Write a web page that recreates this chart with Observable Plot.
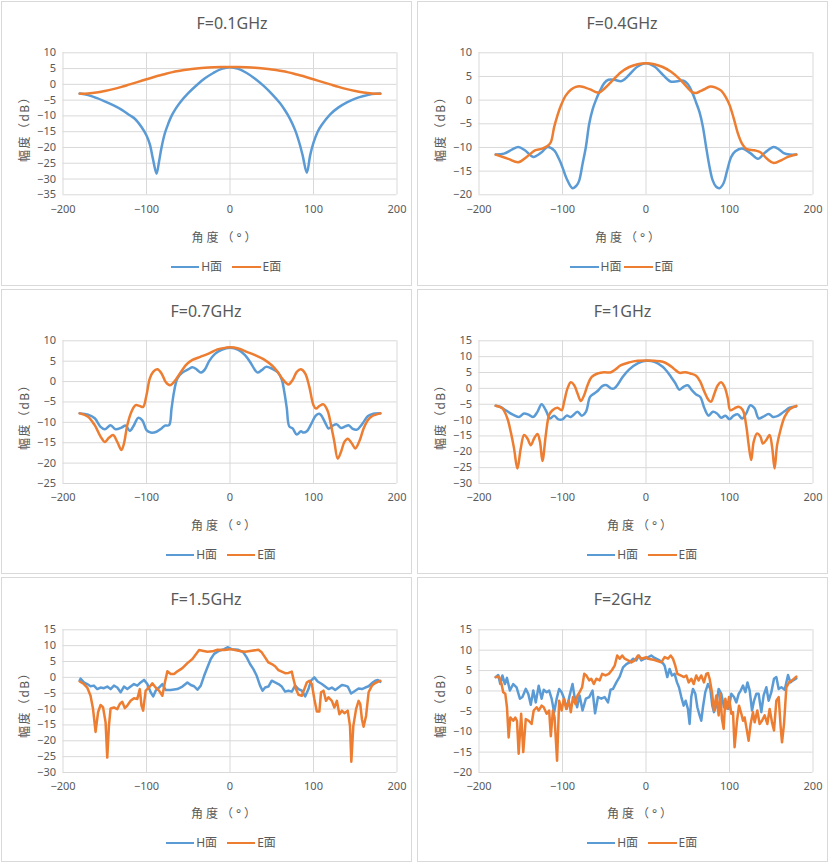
<!DOCTYPE html>
<html><head><meta charset="utf-8">
<script src="https://cdn.jsdelivr.net/npm/d3@7"></script>
<script src="https://cdn.jsdelivr.net/npm/@observablehq/plot@0.6"></script>
<style>
body{margin:0;background:#fff;font-family:"Noto Sans","Noto Sans CJK SC",sans-serif;color:#595959;}
#root{position:relative;width:829px;height:863px;overflow:hidden;}
.panel{position:absolute;width:413px;height:287px;}
.box{position:absolute;left:1px;top:1px;width:411px;height:285px;border:1px solid #d9d9d9;box-sizing:border-box;}
.t{position:absolute;white-space:nowrap;line-height:1;}
.plot{position:absolute;left:0;top:0;}
</style></head><body><div id="root"></div><script>
// ---------- data (angle in degrees, amplitude in dB) ----------
const titles = ["F=0.1GHz","F=0.4GHz","F=0.7GHz","F=1GHz","F=1.5GHz","F=2GHz"];
const seriesNames = ["H面","E面"];
const xTicks = [-200,-100,0,100,200];
const yDomains = [[-35,10],[-20,10],[-25,10],[-30,15],[-30,15],[-20,15]];

const H01 = [[-180,-2.9],[-170,-3.4],[-160,-4.3],[-150,-5.4],[-140,-6.6],[-130,-8.0],[-120,-9.8],[-114,-10.9],[-106,-13.5],[-100,-16.2],[-96,-19],[-92,-24],[-88,-28.3],[-85,-24.5],[-82,-20],[-78,-15.5],[-74,-12.5],[-70,-10],[-65,-7.7],[-60,-5.8],[-50,-2.8],[-40,-0.3],[-30,1.9],[-20,3.6],[-10,4.9],[0,5.4],[10,4.9],[20,3.6],[30,1.8],[40,-0.4],[50,-3.0],[60,-6.0],[66,-8.3],[72,-11],[78,-14.5],[83,-18.5],[87,-22.5],[92,-28],[96,-22.5],[100,-18.5],[105,-15],[110,-12.8],[120,-9.5],[130,-7.3],[140,-5.7],[150,-4.5],[160,-3.7],[170,-3.1],[180,-2.9]];
const E01 = [[-180,-3.0],[-170,-2.9],[-160,-2.6],[-150,-2.1],[-140,-1.5],[-130,-0.8],[-120,0.0],[-110,0.8],[-100,1.6],[-90,2.4],[-80,3.1],[-70,3.8],[-60,4.3],[-50,4.7],[-40,5.0],[-30,5.25],[-20,5.4],[-10,5.5],[0,5.5],[10,5.5],[20,5.4],[30,5.25],[40,5.0],[50,4.7],[60,4.3],[70,3.8],[80,3.1],[90,2.4],[100,1.6],[110,0.8],[120,0.0],[130,-0.8],[140,-1.5],[150,-2.1],[160,-2.6],[170,-2.9],[180,-3.0]];

const H04 = [[-180,-11.5],[-170,-11.3],[-160,-10.4],[-153,-9.9],[-145,-10.6],[-135,-12.0],[-125,-11.0],[-118,-9.9],[-110,-10.6],[-104,-12.5],[-100,-14.2],[-95,-16.6],[-88,-18.6],[-83,-18],[-80,-17],[-76,-13.5],[-72,-9.9],[-68,-5],[-64,-2],[-60,0],[-55,2.0],[-50,3.6],[-45,4.3],[-38,4.3],[-30,4.0],[-25,4.5],[-20,5.4],[-10,7.1],[0,7.8],[10,7.1],[20,5.4],[25,4.5],[30,3.9],[38,4.0],[45,4.1],[50,3.4],[55,1.8],[60,-0.5],[64,-2.5],[68,-5.5],[72,-9.9],[76,-14],[80,-17],[84,-18.3],[88,-18.6],[93,-17.5],[97,-15],[102,-12],[107,-10.8],[115,-10.2],[125,-11.2],[134,-12.4],[143,-11],[153,-9.9],[160,-10.5],[165,-11.2],[172,-11.5],[180,-11.5]];
const E04 = [[-180,-11.5],[-165,-12.4],[-153,-13.1],[-143,-12],[-133,-10.6],[-125,-10.3],[-118,-9.7],[-114,-8.9],[-110,-5.7],[-106,-3.2],[-102,-1.2],[-96,1.0],[-90,2.2],[-84,2.8],[-78,2.9],[-72,2.6],[-66,2.2],[-60,1.7],[-56,1.6],[-50,2.4],[-42,3.8],[-30,5.9],[-20,7.0],[-10,7.6],[0,7.8],[10,7.6],[20,7.0],[30,6.0],[40,4.5],[50,2.6],[55,1.7],[60,1.5],[65,1.9],[70,2.3],[77,2.9],[84,2.6],[90,2.0],[95,0.8],[100,-1.0],[105,-3.8],[110,-7],[115,-9.2],[120,-10.3],[130,-10.6],[137,-11],[145,-12.4],[153,-13.3],[163,-12.6],[170,-12],[180,-11.5]];

const H07 = [[-180,-7.8],[-170,-8.1],[-162,-9.0],[-155,-11.1],[-150,-11.7],[-143,-10.7],[-137,-11.7],[-130,-11.3],[-125,-10.8],[-120,-12.1],[-115,-10.7],[-110,-8.9],[-105,-9.5],[-100,-11.9],[-95,-12.5],[-88,-12.3],[-82,-11.5],[-78,-10.8],[-73,-10.7],[-70,-6.6],[-67,-2.5],[-63,0.8],[-57,2.2],[-50,3.0],[-45,3.5],[-40,3.0],[-35,2.2],[-30,3.0],[-25,5.0],[-18,6.8],[-10,7.8],[0,8.3],[10,7.8],[18,6.5],[25,4.5],[30,2.8],[33,2.2],[38,2.8],[43,3.6],[50,3.2],[57,2.3],[62,0.5],[65,-2.5],[68,-6.5],[71,-11],[75,-11.5],[80,-13],[85,-12.2],[88,-12.5],[92,-12.2],[97,-10.5],[103,-8.3],[107,-7.9],[110,-8.5],[115,-10.5],[118,-11.5],[123,-10.8],[128,-10.5],[133,-11.4],[138,-11],[142,-10.7],[147,-11.6],[152,-11.8],[158,-10.5],[165,-8.5],[170,-8],[180,-7.8]];
const E07 = [[-180,-7.8],[-170,-8.6],[-162,-10.7],[-155,-13.5],[-150,-14.8],[-145,-13.8],[-140,-13.1],[-135,-14.8],[-130,-16.8],[-127,-15.2],[-123,-10.7],[-118,-7.4],[-113,-5.8],[-108,-6.0],[-104,-6.2],[-100,-3.3],[-96,0.8],[-92,2.4],[-87,3.0],[-82,2.0],[-77,-0.1],[-72,-0.9],[-67,-0.1],[-60,2.0],[-52,4.2],[-45,5.3],[-35,6.1],[-25,6.9],[-15,7.9],[-5,8.3],[0,8.4],[10,8.1],[20,7.3],[30,6.5],[40,5.5],[50,4.0],[57,2.4],[63,0.6],[70,-0.7],[75,0.4],[80,2.4],[85,3.0],[90,2.0],[95,-1.3],[100,-5.8],[103,-6.6],[107,-6.0],[112,-5.6],[117,-7.2],[121,-10.7],[125,-14.8],[129,-18.9],[133,-17.2],[137,-14.8],[141,-14.0],[146,-15.2],[150,-16.4],[155,-14.6],[160,-11.5],[165,-9.5],[170,-8.5],[180,-7.8]];

const H10 = [[-180,-5.5],[-175,-5.8],[-168,-6.9],[-160,-8.2],[-152,-9.0],[-146,-7.9],[-140,-8.4],[-135,-9.0],[-130,-7.4],[-125,-5.0],[-120,-6.9],[-115,-9.5],[-110,-8.6],[-105,-9.8],[-100,-9.8],[-95,-8.6],[-90,-9.0],[-82,-7.4],[-77,-8.6],[-72,-7.4],[-67,-2.7],[-62,-1.6],[-57,-0.6],[-52,0.8],[-47,1.0],[-42,0],[-38,0],[-33,1.5],[-28,3.6],[-20,6.0],[-10,7.9],[0,8.7],[10,8.4],[20,6.8],[25,5.4],[30,3.6],[35,1.7],[40,-0.4],[45,0.5],[50,1.0],[55,-0.6],[60,-1.9],[65,-2.7],[70,-6.3],[75,-8.6],[80,-7.4],[85,-7.9],[90,-9.3],[95,-8.6],[100,-9.7],[105,-8.6],[110,-8.2],[115,-9.5],[120,-7.9],[125,-5.3],[130,-6.3],[135,-9.5],[140,-9.0],[147,-8.1],[152,-9.0],[158,-8.7],[165,-7.4],[172,-6.1],[180,-5.7]];
const E10 = [[-180,-5.5],[-172,-6.3],[-166,-9.5],[-162,-13.7],[-158,-19],[-154,-25.3],[-150,-19],[-146,-14.7],[-142,-15.8],[-138,-17.9],[-134,-15.8],[-130,-14.4],[-127,-16.8],[-124,-22.9],[-120,-14.7],[-116,-8.4],[-112,-6.9],[-106,-6.1],[-101,-6.9],[-98,-4.2],[-94,0],[-90,1.9],[-86,1.0],[-82,-1.6],[-78,-4],[-74,-2.1],[-70,1],[-65,3.6],[-58,4.7],[-50,5.1],[-43,5.0],[-38,5.7],[-30,7.3],[-20,8.2],[-10,8.7],[0,8.8],[10,8.7],[20,8.4],[27,7.5],[33,6.3],[40,4.9],[47,5.1],[53,4.7],[60,4.0],[65,2.1],[70,-1.1],[75,-3.7],[78,-4.2],[82,-1.6],[86,1.0],[90,1.9],[94,0.5],[98,-3.2],[101,-6.9],[106,-6.3],[111,-5.8],[116,-6.9],[120,-11.7],[123,-17.9],[126,-22.6],[129,-16.8],[133,-14.2],[137,-15.2],[140,-17.4],[144,-16.3],[148,-14.7],[151,-18.4],[154,-25.3],[157,-17.9],[161,-13.2],[166,-9],[172,-6.6],[180,-5.5]];

const H15 = [[-180,-1.0],[-179,-0.4],[-175,-1.6],[-171,-2.1],[-167,-2.8],[-163,-2.6],[-159,-3.7],[-155,-3.2],[-151,-3.4],[-147,-2.9],[-143,-3.7],[-139,-2.6],[-135,-3.2],[-131,-4.7],[-127,-2.9],[-123,-3.7],[-119,-2.9],[-115,-2.1],[-111,-2.6],[-107,-1.6],[-103,-0.8],[-99,-2.1],[-95,-4.7],[-92,-6.0],[-89,-4.2],[-85,-3.2],[-81,-2.1],[-77,-4.0],[-71,-4.0],[-63,-3.7],[-57,-2.9],[-51,-1.6],[-47,-2.4],[-43,-2.8],[-39,-3.9],[-35,-2.6],[-31,0.5],[-27,3.2],[-23,5.8],[-19,7.4],[-13,8.4],[-7,8.9],[-3,9.5],[2,8.9],[10,8.7],[16,7.9],[20,6.3],[24,4.2],[28,2.6],[32,0.5],[36,-2.6],[39,-4.2],[42,-3.2],[46,-2.9],[50,-1.05],[54,-1.6],[58,-2.1],[62,-2.9],[66,-4.5],[70,-4.2],[74,-4.5],[78,-2.6],[82,-3.7],[86,-4.2],[90,-6.0],[94,-3.7],[97,-1.05],[101,0],[105,-1.3],[110,-2.1],[114,-2.9],[118,-3.7],[122,-3.2],[126,-4.0],[130,-3.2],[134,-2.4],[138,-2.6],[141,-2.9],[145,-5.1],[150,-4.2],[154,-3.5],[158,-3.7],[162,-3.2],[166,-2.8],[170,-1.8],[174,-1.05],[177,-0.8],[180,-1.4]];
const E15 = [[-180,-1.3],[-175,-2.1],[-171,-3.2],[-167,-5.8],[-164,-10],[-161,-17.2],[-158,-11],[-155,-8.7],[-152,-9.5],[-149,-14.2],[-147,-25.3],[-145,-15.3],[-143,-9.8],[-139,-9.5],[-135,-10],[-132,-8.4],[-129,-7.7],[-126,-9.7],[-123,-8.9],[-119,-7.4],[-115,-6.6],[-111,-6.8],[-108,-3.7],[-106,-8.9],[-104,-10.5],[-101,-4.2],[-97,-3.2],[-93,-1.9],[-89,-3.2],[-85,-4.2],[-81,-5.8],[-78,-1.6],[-75,1.9],[-71,1.05],[-67,1.05],[-63,1.9],[-57,2.9],[-51,4.5],[-45,5.8],[-41,7.2],[-37,8.6],[-33,8.4],[-27,8.1],[-21,8.2],[-15,8.7],[-7,8.6],[1,8.9],[10,8.4],[18,8.1],[26,8.4],[34,8.7],[38,7.9],[42,6.3],[46,4.7],[50,4.2],[54,3.5],[58,2.3],[62,1.8],[66,1.3],[70,1.4],[74,1.8],[76,-0.5],[79,-3.7],[82,-5.5],[86,-5.8],[89,-3.7],[92,-1.6],[95,-1.05],[98,-2.1],[101,-6.8],[104,-10.8],[107,-10.8],[109,-4.7],[112,-4.2],[115,-7.4],[118,-6.3],[122,-7.4],[125,-9.5],[128,-7.4],[131,-11.6],[134,-10.5],[137,-11.3],[141,-10.5],[143.7,-15.3],[145.3,-26.6],[147.7,-15.3],[151,-10],[154,-7.4],[156,-8.4],[158,-13.2],[160,-15.6],[163,-12.1],[166,-4.7],[170,-2.6],[174,-1.8],[180,-1.05]];

const H20 = [[-180,3.4],[-177,3.9],[-174.5,1.7],[-172,3.8],[-169,1.7],[-166.5,3.2],[-163,0.1],[-159,1.7],[-155,0.9],[-151,-1.9],[-148,-1.5],[-144,0.5],[-141,-0.7],[-138,-3.4],[-135,0.1],[-132,-2.8],[-128.5,1.3],[-125,-1.9],[-122.5,0.3],[-119,-0.3],[-116,0.1],[-113,-1.9],[-110,-5.2],[-107,-1.9],[-104,0.5],[-101,-0.3],[-98,-1.9],[-95,-4.4],[-91.5,-1.1],[-88,1.7],[-85.5,-1.5],[-82.5,-4.0],[-79.5,-1.1],[-76,-4.8],[-72,-1.9],[-68,-1.5],[-64,0.1],[-61,-5.5],[-57.5,-1.5],[-53.5,-1.9],[-49.5,-1.5],[-45.5,-2.8],[-42.5,0.3],[-39.5,0.5],[-35.5,2.1],[-31.5,3.5],[-27.5,5.8],[-23.5,6.6],[-19.6,7.0],[-15.6,7.9],[-11.6,7.5],[-8.4,8.7],[-5.6,7.5],[-1.6,7.9],[3,8.3],[6.3,8.7],[10.3,8.1],[16.3,7.5],[20.3,6.8],[22.3,6.2],[25.5,3.4],[28.3,5.4],[31.1,3.8],[34.3,4.2],[37.1,2.1],[39.5,0.9],[42.3,-1.5],[45.1,-3.6],[47.5,-2.4],[50.2,-4.4],[52.2,-8.1],[54.2,-1.5],[56.2,0.5],[59.1,-0.7],[61.5,-4],[64.2,-6.0],[66.2,-7.3],[68.2,-4],[71,-0.3],[74.2,1.7],[77,0.5],[79.4,-3.6],[81.4,-5.2],[84.2,-3.6],[87,0.5],[90.2,-0.7],[93.4,-4],[96.2,-2.8],[99,-4.4],[102.2,-0.7],[105.4,-1.5],[108.2,-2.8],[111,-0.7],[113.4,0.1],[116.2,1.3],[119,-0.3],[121.5,2.1],[124.2,0.1],[127,-4.8],[129.4,-2.4],[132.1,-0.7],[134.9,-0.7],[138.1,-5.2],[140.9,-1.1],[144.1,0.9],[146.9,-2.4],[150.1,-0.3],[153.3,3.0],[156.1,3.4],[158.9,0.5],[162.1,0.9],[166.1,0.3],[170.1,3.9],[172.9,2.1],[176.1,2.6],[180,3.1]];
const E20 = [[-180,3.4],[-176,3.5],[-173,1.7],[-171,-0.3],[-168.5,-0.7],[-166.5,-4],[-164.5,-11.4],[-162.5,-6.5],[-159,-7.3],[-156.5,-6.5],[-154.5,-7.3],[-152.5,-15.4],[-149.5,-5.6],[-147,-15.0],[-144,-6.9],[-140.5,-7.3],[-137,-8.1],[-134.5,-4.8],[-131,-4],[-128.5,-4.8],[-125,-3.6],[-122.5,-4],[-119,-5.6],[-116,-4.8],[-114,-11.1],[-111.5,-4.8],[-109.5,-6.5],[-106.5,-17.1],[-104,-2.4],[-101,-4.8],[-98.5,-1.9],[-95.5,-4.4],[-92.5,-2.4],[-90,-5.2],[-87.5,-1.5],[-84.5,-3.2],[-82,-1.1],[-79.5,-0.3],[-76.5,0.9],[-74,4.2],[-71.5,3.8],[-68,2.6],[-65.5,3.0],[-62.5,1.7],[-59.5,3.0],[-55.5,2.6],[-52.5,4.2],[-48.5,3.8],[-44.5,4.2],[-40.5,5.2],[-37.5,6.2],[-34.5,8.7],[-31.5,7.9],[-28.5,8.7],[-25.5,7.9],[-21.5,7.5],[-17.5,7.0],[-13.5,7.5],[-9.6,8.7],[-5.6,7.9],[0.4,8.3],[2.4,7.9],[10.3,7.6],[18.3,7.0],[22.3,8.3],[26.3,7.9],[29.5,8.7],[32.3,7.9],[35.1,6.2],[37.5,4.2],[41.5,3.8],[45.5,3.4],[48.3,3.8],[51.1,2.1],[54.3,3.0],[57.1,1.7],[60.2,3.8],[63,2.6],[66.2,3.8],[69.4,2.1],[72.2,4.2],[74.2,4.4],[76.2,3.0],[79,-0.3],[81.4,-4.8],[84.2,-1.1],[87,-6.0],[89,-0.7],[91,-6.9],[93,-9.3],[95,-1.9],[97.4,-4.4],[99.4,-1.5],[102.2,-5.6],[104.2,-5.2],[106.1,-13.8],[109,-7.3],[111.4,-3.6],[114.2,-5.6],[116.2,-7.3],[118.1,-6.5],[120.5,-9.3],[122.9,-12.2],[125.3,-8.1],[128.1,-5.2],[130.1,-7.7],[133.3,-4.8],[136.1,-8.1],[138.9,-7.3],[142.1,-6.0],[145.3,-8.1],[148.1,-4.4],[150.9,-7.7],[153.3,-9.7],[156.1,-2.4],[158.9,-1.5],[161.3,-8.9],[162.9,-12.6],[165.3,-8.1],[168.1,0.9],[171.3,2.1],[174.9,2.6],[180,3.5]];

const panelH = [H01,H04,H07,H10,H15,H20];
const panelE = [E01,E04,E07,E10,E15,E20];

// ---------- layout ----------
const COLORS = {H:"#5b9bd5", E:"#ed7d31", grid:"#d9d9d9", text:"#595959"};
const origins = [[0,0],[416,0],[0,288],[416,288],[0,576],[416,576]];
const plotTop = [52.3,52.3,52.3,52.3,53.3,53.3];
const plotBottom = [194.3,194.3,195,195,196,196];
const titleCx = [232,206,206,206.5,206,206.5];
const xLabelCx = [225.5,213,225,225,225,225];
const legendH = [170.7,154,165.7,170.7,165.7,170.7];
const legendE = [232,208,226.7,232,226.7,232];
const curves = ["catmull-rom","catmull-rom","catmull-rom","catmull-rom","linear","linear"];

const root = document.getElementById("root");
function addText(parent, txt, x, y, size, extra) {
  const d = document.createElement("div");
  d.className = "t";
  d.textContent = txt;
  d.style.left = x + "px";
  d.style.top = y + "px";
  d.style.fontSize = size + "px";
  d.style.color = COLORS.text;
  Object.assign(d.style, extra || {});
  parent.appendChild(d);
  return d;
}
function addLegendLine(parent, x, y, color) {
  const d = document.createElement("div");
  d.style.position = "absolute";
  d.style.left = x + "px";
  d.style.top = (y - 1.25) + "px";
  d.style.width = "28.5px";
  d.style.height = "2.5px";
  d.style.background = color;
  parent.appendChild(d);
}

for (let i = 0; i < 6; i++) {
  const [ox, oy] = origins[i];
  const p = document.createElement("div");
  p.className = "panel";
  p.style.left = ox + "px";
  p.style.top = oy + "px";
  const box = document.createElement("div");
  box.className = "box";
  p.appendChild(box);

  const [y0, y1] = yDomains[i];
  const yTicks = d3.range(y0, y1 + 0.001, 5);
  const acc = {x: d => d[0], y: d => d[1]};
  const chart = Plot.plot({
    width: 413, height: 287,
    marginLeft: 62.5, marginRight: 16.5,
    marginTop: plotTop[i], marginBottom: 287 - plotBottom[i],
    style: {fontFamily: '"Noto Sans","Noto Sans CJK SC",sans-serif', fontSize: "11px", color: COLORS.text, background: "transparent", overflow: "visible"},
    x: {domain: [-200, 200], ticks: xTicks, tickSize: 0, tickPadding: 10, label: null},
    y: {domain: [y0, y1], ticks: yTicks, tickSize: 0, tickPadding: 7, label: null},
    marks: [
      Plot.ruleY(yTicks, {stroke: COLORS.grid, strokeWidth: 1, strokeOpacity: 1}),
      Plot.ruleX(xTicks, {stroke: COLORS.grid, strokeWidth: 1, strokeOpacity: 1}),
      Plot.line(panelH[i], {...acc, stroke: COLORS.H, strokeWidth: 2.5, curve: curves[i]}),
      Plot.line(panelE[i], {...acc, stroke: COLORS.E, strokeWidth: 2.5, curve: curves[i]})
    ]
  });
  chart.classList.add("plot");
  p.appendChild(chart);

  addText(p, titles[i], titleCx[i], 23, 16, {transform: "translate(-50%,-50%)"});
  addText(p, "幅度（dB）", 25, 126, 12, {transform: "translate(-50%,-50%) rotate(-90deg)", letterSpacing: "1.5px"});
  addText(p, "角度（°）", xLabelCx[i], 238, 12, {transform: "translate(-50%,-50%)", letterSpacing: "3px"});
  addLegendLine(p, legendH[i], 267, COLORS.H);
  addText(p, seriesNames[0], legendH[i] + 30.5, 267, 12, {transform: "translateY(-50%)"});
  addLegendLine(p, legendE[i], 267, COLORS.E);
  addText(p, seriesNames[1], legendE[i] + 30.5, 267, 12, {transform: "translateY(-50%)"});

  root.appendChild(p);
}
</script></body></html>
